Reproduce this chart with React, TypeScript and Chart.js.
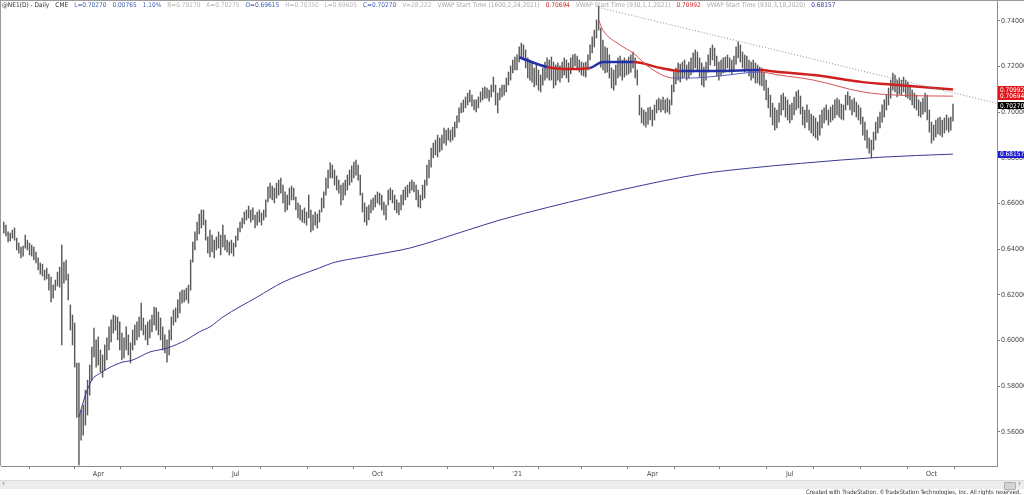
import React, { useEffect, useRef } from "react";
import { Chart, registerables } from "chart.js";

Chart.register(...registerables);

// Daily bars of @NE1 (NZD futures) from 30 Jan 2020 (index 0) to 15 Oct 2021 (index 442)
const highs = [
  0.6518, 0.6505, 0.6475, 0.647, 0.6483, 0.6492, 0.6448, 0.6426, 0.6409, 0.6413,
  0.6461, 0.6439, 0.6426, 0.6417, 0.6409, 0.6387, 0.6361, 0.6339, 0.6334, 0.6308,
  0.6317, 0.629, 0.6277, 0.6242, 0.6264, 0.6299, 0.6321, 0.6417, 0.6343, 0.6352,
  0.629, 0.6155, 0.6111, 0.6076, 0.5901, 0.5901, 0.5695, 0.5717, 0.5782, 0.5826,
  0.5892, 0.5971, 0.6054, 0.6002, 0.6015, 0.5958, 0.5936, 0.598, 0.6011, 0.6059,
  0.609, 0.6111, 0.6107, 0.6102, 0.6081, 0.6032, 0.6011, 0.6059, 0.6024, 0.5989,
  0.6045, 0.6067, 0.6081, 0.6102, 0.6163, 0.6098, 0.6067, 0.6081, 0.609, 0.6111,
  0.6146, 0.6142, 0.6124, 0.6098, 0.6059, 0.6024, 0.6002, 0.6045, 0.6102, 0.6133,
  0.6142, 0.6177, 0.6212, 0.622, 0.622, 0.6229, 0.6242, 0.6352, 0.6431, 0.6475,
  0.6518, 0.6553, 0.6571, 0.6571, 0.6527, 0.6453, 0.6483, 0.6461, 0.6439, 0.6453,
  0.6475, 0.6461, 0.6505, 0.6461, 0.6439, 0.6431, 0.6439, 0.6426, 0.6457, 0.6492,
  0.6518, 0.6536, 0.6562, 0.6571, 0.6588, 0.6571, 0.658, 0.6549, 0.6562, 0.6571,
  0.6558, 0.6571, 0.6615, 0.6672, 0.6689, 0.6676, 0.6667, 0.6689, 0.6702, 0.6711,
  0.668, 0.665, 0.6636, 0.6667, 0.6676, 0.6667, 0.6628, 0.6602, 0.6593, 0.6571,
  0.658, 0.6562, 0.6636, 0.6571, 0.6549, 0.6562, 0.6553, 0.6571, 0.6623, 0.665,
  0.6711, 0.6746, 0.6777, 0.6768, 0.6746, 0.672, 0.6702, 0.668, 0.6689, 0.6702,
  0.6724, 0.6746, 0.6764, 0.6781, 0.679, 0.6768, 0.6724, 0.6645, 0.6602, 0.6584,
  0.6593, 0.6615, 0.6623, 0.6636, 0.665, 0.6645, 0.6636, 0.6606, 0.6593, 0.6658,
  0.6667, 0.6658, 0.6636, 0.6615, 0.6602, 0.6636, 0.6658, 0.6672, 0.668, 0.6693,
  0.6702, 0.6693, 0.668, 0.6658, 0.6636, 0.668, 0.6702, 0.6768, 0.679, 0.6842,
  0.6864, 0.6877, 0.6899, 0.6886, 0.6899, 0.693, 0.6921, 0.693, 0.6921, 0.6934,
  0.6956, 0.6983, 0.7018, 0.7039, 0.7053, 0.7066, 0.7083, 0.7096, 0.7074, 0.7053,
  0.7053, 0.7066, 0.7088, 0.7105, 0.711, 0.7105, 0.7096, 0.7118, 0.7153, 0.7118,
  0.7083, 0.7105, 0.7118, 0.7118, 0.7149, 0.7175, 0.7202, 0.7228, 0.7241, 0.725,
  0.7285, 0.7302, 0.7294, 0.7272, 0.7237, 0.7228, 0.7219, 0.7193, 0.7206, 0.7184,
  0.7162, 0.7193, 0.7219, 0.7237, 0.7228, 0.7241, 0.7219, 0.7206, 0.7215, 0.7202,
  0.7219, 0.7237, 0.7228, 0.7215, 0.7237, 0.725, 0.7254, 0.7245, 0.7228, 0.7219,
  0.7215, 0.7219, 0.725, 0.7294, 0.7329, 0.7359, 0.7403, 0.7463, 0.7368, 0.7315,
  0.7285, 0.728, 0.725, 0.7193, 0.7184, 0.7206, 0.7237, 0.7245, 0.7228, 0.7237,
  0.7228, 0.7241, 0.725, 0.7263, 0.7237, 0.7184, 0.7074, 0.7018, 0.7009, 0.7,
  0.7018, 0.7022, 0.7009, 0.7031, 0.7053, 0.7061, 0.7053, 0.7066, 0.7053, 0.7061,
  0.7053, 0.7118, 0.7175, 0.7193, 0.7215, 0.721, 0.7219, 0.7228, 0.7206, 0.7219,
  0.7237, 0.7259, 0.7272, 0.7263, 0.7237, 0.7215, 0.7197, 0.7219, 0.725, 0.728,
  0.7294, 0.728, 0.7245, 0.7219, 0.7228, 0.7237, 0.7241, 0.725, 0.7237, 0.7228,
  0.7245, 0.7285, 0.7307, 0.7294, 0.7263, 0.725, 0.7245, 0.7228, 0.7219, 0.7228,
  0.7215, 0.7206, 0.7197, 0.7193, 0.7175, 0.714, 0.7105, 0.7074, 0.7039, 0.7018,
  0.7009, 0.7039, 0.7074, 0.7083, 0.7066, 0.7053, 0.7031, 0.7039, 0.7066, 0.7088,
  0.7096, 0.707, 0.7022, 0.7009, 0.7031, 0.7009, 0.6991, 0.6983, 0.6974, 0.6956,
  0.6987, 0.7009, 0.7018, 0.7031, 0.7009, 0.7022, 0.7031, 0.7053, 0.7061, 0.7053,
  0.7035, 0.7031, 0.7074, 0.7088, 0.707, 0.7053, 0.7061, 0.7044, 0.7031, 0.7018,
  0.6978, 0.6956, 0.6921, 0.6886, 0.6877, 0.6912, 0.6956, 0.6978, 0.7, 0.7031,
  0.7053, 0.7074, 0.7105, 0.714, 0.7171, 0.7162, 0.714, 0.7149, 0.714, 0.7153,
  0.714, 0.7131, 0.7118, 0.7096, 0.7083, 0.7074, 0.7053, 0.7044, 0.7061, 0.7083,
  0.7074, 0.7009, 0.6956, 0.6943, 0.6965, 0.6974, 0.6978, 0.6965, 0.6974, 0.6987,
  0.6974, 0.6978, 0.7035,
];

const lows = [
  0.647, 0.6457, 0.6431, 0.6435, 0.6448, 0.6439, 0.6396, 0.6382, 0.6361, 0.6369,
  0.6404, 0.6396, 0.6374, 0.6369, 0.6352, 0.6339, 0.6308, 0.629, 0.6282, 0.6264,
  0.6269, 0.622, 0.6168, 0.6185, 0.622, 0.6238, 0.6233, 0.598, 0.6251, 0.6264,
  0.6177, 0.6045, 0.598, 0.5883, 0.5664, 0.5455, 0.5563, 0.5585, 0.5629, 0.5673,
  0.576, 0.5826, 0.5927, 0.5883, 0.5892, 0.5861, 0.5839, 0.587, 0.5914, 0.5958,
  0.5993, 0.6032, 0.6045, 0.6002, 0.5958, 0.5914, 0.5923, 0.5958, 0.5936, 0.5901,
  0.5958, 0.598, 0.6002, 0.6015, 0.6045, 0.6024, 0.6002, 0.598, 0.6011, 0.6037,
  0.6067, 0.6045, 0.6024, 0.6002, 0.5958, 0.5945, 0.5905, 0.5936, 0.6002, 0.6067,
  0.6081, 0.6098, 0.612, 0.6163, 0.6168, 0.6177, 0.6163, 0.622, 0.6343, 0.6396,
  0.6439, 0.6466, 0.6492, 0.6505, 0.6439, 0.6382, 0.6365, 0.6387, 0.6361, 0.6396,
  0.6404, 0.6374, 0.6409, 0.6396, 0.6387, 0.6374, 0.6382, 0.6369, 0.6409, 0.6439,
  0.6475, 0.6492, 0.651, 0.6527, 0.6536, 0.6518, 0.6527, 0.6492, 0.6505, 0.6518,
  0.6505, 0.6527, 0.654, 0.6606, 0.6623, 0.6615, 0.6602, 0.6623, 0.6636, 0.6645,
  0.6602, 0.6562, 0.6571, 0.6593, 0.6615, 0.6615, 0.6571, 0.6536, 0.6527, 0.6518,
  0.6514, 0.6505, 0.6536, 0.6475, 0.6483, 0.6505, 0.6492, 0.6518, 0.6562, 0.658,
  0.6636, 0.6667, 0.6711, 0.6711, 0.668, 0.6658, 0.6645, 0.6593, 0.6615, 0.6636,
  0.6658, 0.668, 0.6693, 0.6711, 0.6724, 0.6702, 0.6636, 0.6562, 0.6518, 0.6505,
  0.6527, 0.6558, 0.6571, 0.6584, 0.6602, 0.6593, 0.6571, 0.6549, 0.6527, 0.6593,
  0.6615, 0.6602, 0.6571, 0.6558, 0.6549, 0.6571, 0.6593, 0.6615, 0.6628, 0.6645,
  0.6658, 0.665, 0.6615, 0.6584, 0.658, 0.6615, 0.6623, 0.668, 0.6711, 0.6759,
  0.6799, 0.6812, 0.6803, 0.6825, 0.6834, 0.6864, 0.6855, 0.6877, 0.6869, 0.6877,
  0.6891, 0.693, 0.6956, 0.6996, 0.7, 0.7018, 0.7031, 0.7044, 0.7026, 0.7009,
  0.7, 0.7018, 0.7044, 0.7053, 0.7061, 0.7061, 0.7048, 0.7066, 0.7088, 0.7031,
  0.6996, 0.7053, 0.7066, 0.7074, 0.7088, 0.7118, 0.714, 0.7171, 0.7184, 0.7184,
  0.7219, 0.7237, 0.7228, 0.7193, 0.7149, 0.714, 0.7131, 0.711, 0.7118, 0.7096,
  0.7088, 0.7118, 0.714, 0.7149, 0.714, 0.714, 0.7105, 0.7118, 0.714, 0.7131,
  0.7149, 0.7162, 0.7149, 0.7131, 0.7167, 0.7193, 0.7202, 0.7184, 0.7175, 0.7162,
  0.7158, 0.7153, 0.7184, 0.7228, 0.7259, 0.7285, 0.7324, 0.7359, 0.7197, 0.7184,
  0.7171, 0.7175, 0.7149, 0.7105, 0.7096, 0.7118, 0.7149, 0.7158, 0.714, 0.7153,
  0.7162, 0.7167, 0.7175, 0.7193, 0.7149, 0.7118, 0.6987, 0.6952, 0.6943, 0.6934,
  0.6947, 0.6965, 0.6939, 0.6965, 0.6996, 0.7009, 0.7, 0.7009, 0.6996, 0.7,
  0.6991, 0.7031, 0.7088, 0.7123, 0.714, 0.7131, 0.7149, 0.7153, 0.714, 0.7149,
  0.7162, 0.7175, 0.7193, 0.7184, 0.7153, 0.7118, 0.711, 0.714, 0.7175, 0.7206,
  0.7228, 0.7202, 0.7158, 0.714, 0.7158, 0.7171, 0.7175, 0.7193, 0.7175, 0.7167,
  0.7184, 0.721, 0.7237, 0.7219, 0.7193, 0.7175, 0.7184, 0.7158, 0.714, 0.7149,
  0.7127, 0.7127, 0.7118, 0.7114, 0.7096, 0.7053, 0.7018, 0.6978, 0.6943, 0.6921,
  0.693, 0.6956, 0.6987, 0.7009, 0.6978, 0.6965, 0.6952, 0.6965, 0.6987, 0.7009,
  0.7018, 0.6991, 0.6943, 0.693, 0.6956, 0.6921, 0.6908, 0.6895, 0.6886, 0.6877,
  0.6899, 0.693, 0.6952, 0.6965, 0.6943, 0.6956, 0.6965, 0.6974, 0.6987, 0.6978,
  0.6969, 0.6965, 0.7009, 0.7031, 0.7009, 0.6987, 0.7, 0.6978, 0.6965, 0.6947,
  0.6899, 0.6877, 0.6842, 0.682, 0.6799, 0.6834, 0.6877, 0.6908, 0.693, 0.6956,
  0.6978, 0.7009, 0.7031, 0.7061, 0.7096, 0.7088, 0.7066, 0.7079, 0.7074, 0.7088,
  0.7066, 0.7061, 0.7053, 0.7031, 0.7018, 0.7009, 0.6983, 0.6978, 0.6991, 0.7,
  0.6965, 0.6912, 0.6864, 0.6877, 0.6891, 0.6904, 0.6899, 0.6891, 0.6908, 0.6921,
  0.6912, 0.6921, 0.69605,
];

// VWAP (start 18 Mar 2020), read at bar indices
const vwapMar20Idx = [35, 38, 41, 45, 54, 60, 68, 76, 85, 91, 96, 102, 118, 130, 138, 147, 153, 167, 180, 189, 216, 231, 254, 272, 287, 324, 348, 371, 408, 442];
const vwapMar20Val = [0.5664, 0.576, 0.5826, 0.5857, 0.5901, 0.5914, 0.5949, 0.5966, 0.6002, 0.6037, 0.6059, 0.6102, 0.619, 0.6255, 0.6286, 0.6317, 0.6339, 0.6365, 0.6387, 0.6404, 0.6483, 0.6527, 0.6584, 0.6625, 0.6658, 0.6728, 0.6755, 0.6775, 0.6802, 0.68157];

// VWAP (start 1 Jan 2021), thick
const vwapJan21Idx = [240, 253, 264, 273, 279, 293, 306, 315, 333, 352, 361, 377, 400, 416, 442];
const vwapJan21Val = [0.724, 0.7197, 0.7188, 0.7193, 0.7219, 0.7219, 0.7193, 0.718, 0.718, 0.7184, 0.7175, 0.7162, 0.7131, 0.7118, 0.70992];
const vwapJan21Blue = [1, 0, 0, 1, 1, 0, 0, 1, 1, 0, 0, 0, 0, 0];

// VWAP (start 24 Feb 2021), thin
const vwapFeb21Idx = [277, 279, 287, 293, 301, 312, 320, 333, 352, 361, 377, 400, 416, 442];
const vwapFeb21Val = [0.7403, 0.7359, 0.7294, 0.7259, 0.7193, 0.7149, 0.7149, 0.7158, 0.7175, 0.7162, 0.714, 0.7088, 0.7074, 0.70694];
const vwapFeb21Blue = [0, 0, 0, 0, 0, 1, 1, 1, 0, 0, 0, 0, 0];

// Dotted trendline from the Feb 2021 high
const trendIdx = [277, 462.5];
const trendVal = [0.7458, 0.7038];

// Axis ticks
const monthStartIdx = [2, 22, 44, 65, 86, 108, 131, 152, 174, 196, 217, 239, 259, 279, 302, 323, 344, 366, 388, 410, 432, 453];
const monthLabels = ["", "", "Apr", "", "", "Jul", "", "", "Oct", "", "", "'21", "", "", "Apr", "", "", "Jul", "", "", "Oct", ""];
const yTickValues = [0.56, 0.58, 0.6, 0.62, 0.64, 0.66, 0.68, 0.7, 0.72, 0.74];

// Right-axis value tags
const tagValues = [0.70992, 0.70694, 0.7027, 0.68157];
const tagColors = ["#e3161b", "#e3161b", "#000000", "#1f1fd0"];

const legendItems: [string, string][] = [
  ["@NE1(D) - Daily", "#333"],
  ["CME", "#333"],
  ["L=0.70270", "#3e5fb5"],
  ["0.00765", "#3e5fb5"],
  ["1.10%", "#3e5fb5"],
  ["B=0.70270", "#b4b4b4"],
  ["A=0.70275", "#b4b4b4"],
  ["O=0.69615", "#3e5fb5"],
  ["H=0.70350", "#b4b4b4"],
  ["L=0.69605", "#b4b4b4"],
  ["C=0.70270", "#3e5fb5"],
  ["V=28,222", "#b4b4b4"],
  ["VWAP Start Time (1600,2,24,2021)", "#a8a8a8"],
  ["0.70694", "#d42a2a"],
  ["VWAP Start Time (930,1,1,2021)", "#a8a8a8"],
  ["0.70992", "#d42a2a"],
  ["VWAP Start Time (930,3,18,2020)", "#a8a8a8"],
  ["0.68157", "#34349a"],
];

const NARROW = "'Liberation Sans Narrow', 'DejaVu Sans Condensed', 'Liberation Sans', Arial, sans-serif";
const RED = "#cf2020";
const BLUE = "#2430a8";

const framePlugin = {
  id: "frame",
  afterDraw(chart: any) {
    const { ctx, chartArea, scales } = chart;
    const ys = scales.y;
    ctx.save();
    ctx.strokeStyle = "#9a9a9a";
    ctx.lineWidth = 1;
    ctx.beginPath();
    ctx.moveTo(0.5, 0);
    ctx.lineTo(0.5, chartArea.bottom);
    ctx.moveTo(0, 0.5);
    ctx.lineTo(chart.width, 0.5);
    ctx.moveTo(Math.round(chartArea.right) + 0.5, 0);
    ctx.lineTo(Math.round(chartArea.right) + 0.5, chartArea.top);
    ctx.stroke();
    ctx.font = `6.5px ${NARROW}`;
    ctx.textBaseline = "middle";
    ctx.textAlign = "left";
    tagValues.forEach((v, k) => {
      const py = ys.getPixelForValue(v);
      ctx.fillStyle = tagColors[k];
      ctx.fillRect(chartArea.right + 1, Math.round(py - 3.5), 26, 7);
      ctx.fillStyle = "#ffffff";
      ctx.fillText(v.toFixed(5), chartArea.right + 3, py + 0.5);
    });
    ctx.restore();
  },
};

export default function App() {
  const ref = useRef<HTMLCanvasElement | null>(null);

  useEffect(() => {
    document.body.style.margin = "0";
    const canvas = ref.current;
    if (!canvas) return;
    const tickFont = { family: NARROW, size: 7 };
    const chart = new Chart(canvas, {
      type: "bar",
      data: {
        datasets: [
          {
            type: "line",
            data: trendIdx.map((x, k) => ({ x, y: trendVal[k] })),
            borderColor: "#8c8c8c",
            borderWidth: 1,
            borderDash: [1, 2],
            pointRadius: 0,
            order: 1,
          } as any,
          {
            type: "line",
            data: vwapFeb21Idx.map((x, k) => ({ x, y: vwapFeb21Val[k] })),
            borderColor: "#d45454",
            borderWidth: 1,
            pointRadius: 0,
            cubicInterpolationMode: "monotone",
            segment: {
              borderColor: (c: any) => (vwapFeb21Blue[c.p0DataIndex] ? "#5560c4" : "#d45454"),
            },
            order: 2,
          } as any,
          {
            type: "line",
            data: vwapJan21Idx.map((x, k) => ({ x, y: vwapJan21Val[k] })),
            borderColor: RED,
            borderWidth: 2.5,
            pointRadius: 0,
            cubicInterpolationMode: "monotone",
            segment: {
              borderColor: (c: any) => (vwapJan21Blue[c.p0DataIndex] ? BLUE : RED),
            },
            order: 2,
          } as any,
          {
            type: "line",
            data: vwapMar20Idx.map((x, k) => ({ x, y: vwapMar20Val[k] })),
            borderColor: "#3a3a96",
            borderWidth: 1,
            pointRadius: 0,
            cubicInterpolationMode: "monotone",
            order: 3,
          } as any,
          {
            type: "bar",
            data: highs.map((h, i) => ({ x: i, y: [lows[i], h] })),
            backgroundColor: "#5a5a5a",
            borderWidth: 0,
            barThickness: 0.8,
            order: 5,
          } as any,
        ],
      },
      options: {
        responsive: false,
        animation: false,
        events: [],
        layout: { padding: { left: 1, top: 3, right: 0, bottom: 0 } },
        plugins: { legend: { display: false }, tooltip: { enabled: false } },
        scales: {
          x: {
            type: "linear",
            min: -1.3,
            max: 462.5,
            offset: false,
            afterBuildTicks: (s: any) => {
              s.ticks = monthStartIdx.map((v) => ({ value: v }));
            },
            afterFit: (s: any) => {
              s.height = 29;
              s.paddingLeft = 0;
              s.paddingRight = 0;
            },
            ticks: {
              autoSkip: false,
              maxRotation: 0,
              minRotation: 0,
              padding: 1,
              color: "#444",
              font: tickFont,
              callback: (v: any) => {
                const k = monthStartIdx.indexOf(Number(v));
                return k >= 0 ? monthLabels[k] : "";
              },
            },
            grid: { drawOnChartArea: false, drawTicks: true, tickLength: 3, color: "#808080" },
            border: { display: true, color: "#8a8a8a" },
          },
          y: {
            type: "linear",
            position: "right",
            min: 0.54498,
            max: 0.74775,
            afterBuildTicks: (s: any) => {
              s.ticks = yTickValues.map((v) => ({ value: v }));
            },
            afterFit: (s: any) => {
              s.width = 27;
              s.paddingTop = 0;
              s.paddingBottom = 0;
            },
            ticks: {
              padding: 1,
              color: "#444",
              font: tickFont,
              callback: (v: any) => Number(v).toFixed(5),
            },
            grid: { drawOnChartArea: false, drawTicks: true, tickLength: 3, color: "#808080" },
            border: { display: true, color: "#8a8a8a" },
          },
        },
      } as any,
      plugins: [framePlugin],
    });
    return () => chart.destroy();
  }, []);

  return (
    <div
      style={{
        position: "relative",
        width: 1024,
        height: 495,
        background: "#ffffff",
        overflow: "hidden",
        fontFamily: NARROW,
      }}
    >
      <canvas ref={ref} width={1024} height={495} style={{ display: "block", position: "absolute", left: 0, top: 0 }} />
      <div
        style={{
          position: "absolute",
          left: 2,
          top: 1,
          fontSize: 6.5,
          lineHeight: "8px",
          whiteSpace: "nowrap",
        }}
      >
        {legendItems.map(([t, c], k) => (
          <span key={k} style={{ color: c, marginRight: 6 }}>
            {t}
          </span>
        ))}
      </div>
      <div
        style={{
          position: "absolute",
          left: 0,
          top: 480,
          width: 1024,
          height: 8,
          background: "#ececec",
          borderTop: "1px solid #dcdcdc",
        }}
      >
        <span style={{ position: "absolute", left: 2, top: -2, fontSize: 8, color: "#777" }}>‹</span>
        <div
          style={{
            position: "absolute",
            left: 1004,
            top: 1,
            width: 10,
            height: 6,
            background: "#d4d4d4",
            border: "1px solid #b0b0b0",
            borderRadius: 1,
          }}
        />
        <span style={{ position: "absolute", left: 1018, top: -2, fontSize: 8, color: "#777" }}>›</span>
      </div>
      <div
        style={{
          position: "absolute",
          right: 3,
          top: 488,
          fontSize: 6,
          lineHeight: "7px",
          color: "#333",
          whiteSpace: "nowrap",
        }}
      >
        Created with TradeStation. ©TradeStation Technologies, Inc. All rights reserved.
      </div>
    </div>
  );
}
